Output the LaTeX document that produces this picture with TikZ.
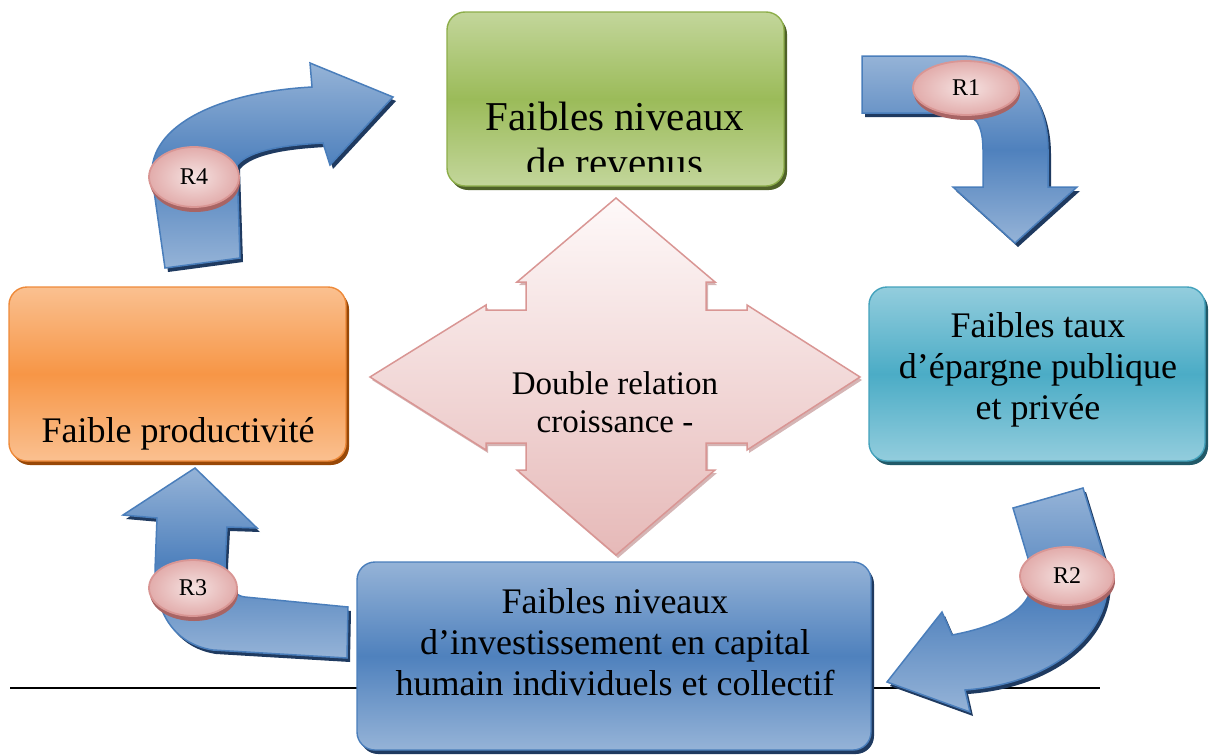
\documentclass[tikz,border=0pt]{standalone}
\usepackage{fontspec}
\setmainfont{Liberation Serif}
\usetikzlibrary{shapes.geometric,shadows}
\definecolor{grtop}{HTML}{C3D69B}
\definecolor{grmid}{HTML}{9BBB59}
\definecolor{grbd}{HTML}{8DAE4A}
\definecolor{grsh}{HTML}{4F6228}
\definecolor{cytop}{HTML}{93CDDD}
\definecolor{cymid}{HTML}{4BACC6}
\definecolor{cybd}{HTML}{44A2BC}
\definecolor{cysh}{HTML}{215968}
\definecolor{ortop}{HTML}{FAC090}
\definecolor{ormid}{HTML}{F79646}
\definecolor{orbd}{HTML}{EE8A3A}
\definecolor{orsh}{HTML}{984807}
\definecolor{bltop}{HTML}{95B3D7}
\definecolor{blmid}{HTML}{4F81BD}
\definecolor{blbd}{HTML}{4A7EBB}
\definecolor{blsh}{HTML}{1F3A60}
\definecolor{pktop}{HTML}{FEF9F9}
\definecolor{pkbot}{HTML}{E6B9B8}
\definecolor{pkbd}{HTML}{D99694}
\definecolor{pkin}{HTML}{F5E2E1}
\definecolor{pkout}{HTML}{E2ACAB}
\definecolor{pkrim}{HTML}{A86464}
\begin{document}
\begin{tikzpicture}[x=1pt,y=-1pt,
  boxbase/.style={draw, rounded corners=18pt, line width=1.4pt, inner sep=0pt, shading=axis},
  greenbox/.style={boxbase, draw=grbd, top color=grtop, bottom color=grtop, middle color=grmid,
     drop shadow={shadow xshift=3pt, shadow yshift=-4pt, fill=grsh, opacity=1}},
  cyanbox/.style={boxbase, draw=cybd, top color=cytop, bottom color=cytop, middle color=cymid,
     drop shadow={shadow xshift=3pt, shadow yshift=-4pt, fill=cysh, opacity=1}},
  orangebox/.style={boxbase, draw=orbd, top color=ortop, bottom color=ortop, middle color=ormid,
     drop shadow={shadow xshift=3pt, shadow yshift=-4pt, fill=orsh, opacity=1}},
  bluebox/.style={boxbase, draw=blbd, top color=bltop, bottom color=bltop, middle color=blmid,
     drop shadow={shadow xshift=3pt, shadow yshift=-4pt, fill=blsh, opacity=1}},
  bluearrow/.style={draw=blbd, line width=1.5pt, line join=miter, top color=bltop, bottom color=bltop, middle color=blmid,
     drop shadow={shadow xshift=3pt, shadow yshift=-4pt, fill=blsh, opacity=1}},
  pinkell/.style={ellipse, draw=pkbd, line width=1.8pt, inner sep=0pt, inner color=pkin, outer color=pkout,
     font=\fontsize{24}{24}\selectfont,
     drop shadow={shadow xshift=1pt, shadow yshift=-5pt, fill=pkrim, opacity=1}},
  bigtxt/.style={align=center, inner sep=0pt, font=\fontsize{36}{41}\selectfont},
  cross/.style={draw=pkbd, line width=1.5pt, line join=miter, top color=pktop, bottom color=pkbot,
     drop shadow={shadow xshift=2pt, shadow yshift=-3pt, fill=pkrim!60, opacity=0.8}}
]
\useasboundingbox (0,0) rectangle (1213,755);

% horizontal rule
\coordinate (l1) at (10,688);
\coordinate (l2) at (1100,688);
\draw[line width=1.2pt] (l1) -- (l2);

% boxes
\node[greenbox, minimum width=337, minimum height=174] (rev) at (615.5,99) {};
\node[cyanbox, minimum width=336, minimum height=174] (epa) at (1037,374) {};
\node[orangebox, minimum width=337, minimum height=174] (prod) at (177.5,374) {};
\node[bluebox, minimum width=514, minimum height=188] (inv) at (614,656) {};

\begin{scope}
\clip (447,12) rectangle (787,171);
\node[align=center, inner sep=0pt, font=\fontsize{41}{46}\selectfont] (revt) at (615,139) {Faibles niveaux\\de revenus};
\end{scope}
\node[bigtxt] (epat) at (1038,370) {Faibles taux\\d’épargne publique\\et privée};
\node[bigtxt, anchor=base] (prodt) at (178,442) {Faible productivité};
\node[bigtxt] (invt) at (615,642) {Faibles niveaux\\d’investissement en capital\\humain individuels et collectif};

% central double relation shape
\path[cross] (616,198) -- (715,282) -- (706,282) -- (706,310) -- (747,310) -- (747,305) -- (860,377)
  -- (747,450) -- (747,443) -- (706,443) -- (706,470) -- (715,470) -- (616,555) -- (517,470)
  -- (526,470) -- (526,443) -- (486,443) -- (486,450) -- (370,377) -- (486,305) -- (486,310)
  -- (526,310) -- (526,282) -- (517,282) -- cycle;
\node[align=center, inner sep=0pt, font=\fontsize{33}{38}\selectfont] (dbl) at (615,402) {Double relation\\croissance -};

% R1 arrow
\path[bluearrow] (862,56) -- (960,56) .. controls (1015,56) and (1048,95) .. (1048,150) -- (1048,187)
  -- (1077,187) -- (1015,243) -- (953,187) -- (983,187) -- (983,150)
  .. controls (983,125) and (975,113) .. (960,113) -- (862,113) -- cycle;
% R2 arrow
\path[bluearrow] (1013,508) -- (1083,488) -- (1105,560) .. controls (1122,625) and (1060,683) .. (965,690)
  -- (970,712) -- (887,682) -- (942,612) -- (952,635) .. controls (1005,625) and (1042,605) .. (1030,565) -- cycle;
% R3 arrow
\path[bluearrow] (195,468) -- (257,528) -- (227,527) -- (225,563) .. controls (225,580) and (230,595) .. (245,597)
  -- (348,607) -- (347,658) -- (213,650) .. controls (180,645) and (155,620) .. (155,570)
  -- (157,518) -- (123,515) -- cycle;
% R4 arrow
\path[bluearrow] (165,268) -- (152,177) .. controls (148,125) and (220,92) .. (312,87) -- (310,63)
  -- (393,97) -- (330,165) -- (323,143) .. controls (285,145) and (250,150) .. (237,165)
  -- (240,258) -- cycle;

% labels
\node[pinkell, minimum width=106, minimum height=54] (r1) at (966,88) {R1};
\node[pinkell, minimum width=94, minimum height=58] (r2) at (1067,576) {R2};
\node[pinkell, minimum width=88, minimum height=56] (r3) at (193,588) {R3};
\node[pinkell, minimum width=90, minimum height=60] (r4) at (194,177) {R4};
\end{tikzpicture}
\end{document}
